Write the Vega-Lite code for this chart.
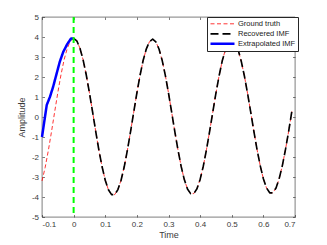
{
  "$schema": "https://vega.github.io/schema/vega-lite/v6.json",
  "width": 253,
  "height": 200,
  "autosize": "none",
  "padding": {"left": 42, "top": 17, "right": 32, "bottom": 28},
  "background": "white",
  "config": {
    "font": "Liberation Sans",
    "view": {"stroke": "#262626", "strokeWidth": 0.6},
    "axis": {
      "grid": false,
      "domain": false,
      "tickColor": "#262626",
      "tickWidth": 0.6,
      "tickSize": -2.5,
      "labelFont": "Liberation Sans",
      "labelFontSize": 8,
      "labelColor": "#3a3a3a",
      "titleFont": "Liberation Sans",
      "titleFontSize": 9,
      "titleFontWeight": "normal",
      "titleColor": "#3a3a3a"
    }
  },
  "datasets": {
    "lines": [
      {"t": -0.10, "v": -3.20, "s": "Ground truth"},
      {"t": -0.09, "v": -2.52, "s": "Ground truth"},
      {"t": -0.08, "v": -1.68, "s": "Ground truth"},
      {"t": -0.07, "v": -0.74, "s": "Ground truth"},
      {"t": -0.06, "v": 0.25, "s": "Ground truth"},
      {"t": -0.05, "v": 1.22, "s": "Ground truth"},
      {"t": -0.04, "v": 2.11, "s": "Ground truth"},
      {"t": -0.03, "v": 2.87, "s": "Ground truth"},
      {"t": -0.02, "v": 3.44, "s": "Ground truth"},
      {"t": -0.01, "v": 3.81, "s": "Ground truth"},
      {"t": 0.00, "v": 3.93, "s": "Ground truth"},
      {"t": 0.01, "v": 3.81, "s": "Ground truth"},
      {"t": 0.02, "v": 3.44, "s": "Ground truth"},
      {"t": 0.03, "v": 2.86, "s": "Ground truth"},
      {"t": 0.04, "v": 2.10, "s": "Ground truth"},
      {"t": 0.05, "v": 1.21, "s": "Ground truth"},
      {"t": 0.06, "v": 0.25, "s": "Ground truth"},
      {"t": 0.07, "v": -0.73, "s": "Ground truth"},
      {"t": 0.08, "v": -1.67, "s": "Ground truth"},
      {"t": 0.09, "v": -2.49, "s": "Ground truth"},
      {"t": 0.10, "v": -3.16, "s": "Ground truth"},
      {"t": 0.11, "v": -3.64, "s": "Ground truth"},
      {"t": 0.12, "v": -3.88, "s": "Ground truth"},
      {"t": 0.13, "v": -3.88, "s": "Ground truth"},
      {"t": 0.14, "v": -3.63, "s": "Ground truth"},
      {"t": 0.15, "v": -3.16, "s": "Ground truth"},
      {"t": 0.16, "v": -2.49, "s": "Ground truth"},
      {"t": 0.17, "v": -1.66, "s": "Ground truth"},
      {"t": 0.18, "v": -0.73, "s": "Ground truth"},
      {"t": 0.19, "v": 0.24, "s": "Ground truth"},
      {"t": 0.20, "v": 1.20, "s": "Ground truth"},
      {"t": 0.21, "v": 2.08, "s": "Ground truth"},
      {"t": 0.22, "v": 2.84, "s": "Ground truth"},
      {"t": 0.23, "v": 3.41, "s": "Ground truth"},
      {"t": 0.24, "v": 3.77, "s": "Ground truth"},
      {"t": 0.25, "v": 3.89, "s": "Ground truth"},
      {"t": 0.26, "v": 3.76, "s": "Ground truth"},
      {"t": 0.27, "v": 3.40, "s": "Ground truth"},
      {"t": 0.28, "v": 2.83, "s": "Ground truth"},
      {"t": 0.29, "v": 2.08, "s": "Ground truth"},
      {"t": 0.30, "v": 1.20, "s": "Ground truth"},
      {"t": 0.31, "v": 0.24, "s": "Ground truth"},
      {"t": 0.32, "v": -0.73, "s": "Ground truth"},
      {"t": 0.33, "v": -1.65, "s": "Ground truth"},
      {"t": 0.34, "v": -2.47, "s": "Ground truth"},
      {"t": 0.35, "v": -3.13, "s": "Ground truth"},
      {"t": 0.36, "v": -3.60, "s": "Ground truth"},
      {"t": 0.37, "v": -3.83, "s": "Ground truth"},
      {"t": 0.38, "v": -3.83, "s": "Ground truth"},
      {"t": 0.39, "v": -3.59, "s": "Ground truth"},
      {"t": 0.40, "v": -3.12, "s": "Ground truth"},
      {"t": 0.41, "v": -2.46, "s": "Ground truth"},
      {"t": 0.42, "v": -1.64, "s": "Ground truth"},
      {"t": 0.43, "v": -0.72, "s": "Ground truth"},
      {"t": 0.44, "v": 0.24, "s": "Ground truth"},
      {"t": 0.45, "v": 1.19, "s": "Ground truth"},
      {"t": 0.46, "v": 2.06, "s": "Ground truth"},
      {"t": 0.47, "v": 2.81, "s": "Ground truth"},
      {"t": 0.48, "v": 3.37, "s": "Ground truth"},
      {"t": 0.49, "v": 3.72, "s": "Ground truth"},
      {"t": 0.50, "v": 3.84, "s": "Ground truth"},
      {"t": 0.51, "v": 3.72, "s": "Ground truth"},
      {"t": 0.52, "v": 3.37, "s": "Ground truth"},
      {"t": 0.53, "v": 2.79, "s": "Ground truth"},
      {"t": 0.54, "v": 2.05, "s": "Ground truth"},
      {"t": 0.55, "v": 1.18, "s": "Ground truth"},
      {"t": 0.56, "v": 0.24, "s": "Ground truth"},
      {"t": 0.57, "v": -0.72, "s": "Ground truth"},
      {"t": 0.58, "v": -1.63, "s": "Ground truth"},
      {"t": 0.59, "v": -2.43, "s": "Ground truth"},
      {"t": 0.60, "v": -3.09, "s": "Ground truth"},
      {"t": 0.61, "v": -3.55, "s": "Ground truth"},
      {"t": 0.62, "v": -3.79, "s": "Ground truth"},
      {"t": 0.63, "v": -3.79, "s": "Ground truth"},
      {"t": 0.64, "v": -3.55, "s": "Ground truth"},
      {"t": 0.65, "v": -3.08, "s": "Ground truth"},
      {"t": 0.66, "v": -2.43, "s": "Ground truth"},
      {"t": 0.67, "v": -1.62, "s": "Ground truth"},
      {"t": 0.68, "v": -0.71, "s": "Ground truth"},
      {"t": 0.69, "v": 0.28, "s": "Ground truth"},
      {"t": 0.00, "v": 3.93, "s": "Recovered IMF"},
      {"t": 0.01, "v": 3.81, "s": "Recovered IMF"},
      {"t": 0.02, "v": 3.44, "s": "Recovered IMF"},
      {"t": 0.03, "v": 2.86, "s": "Recovered IMF"},
      {"t": 0.04, "v": 2.10, "s": "Recovered IMF"},
      {"t": 0.05, "v": 1.21, "s": "Recovered IMF"},
      {"t": 0.06, "v": 0.25, "s": "Recovered IMF"},
      {"t": 0.07, "v": -0.73, "s": "Recovered IMF"},
      {"t": 0.08, "v": -1.67, "s": "Recovered IMF"},
      {"t": 0.09, "v": -2.49, "s": "Recovered IMF"},
      {"t": 0.10, "v": -3.16, "s": "Recovered IMF"},
      {"t": 0.11, "v": -3.64, "s": "Recovered IMF"},
      {"t": 0.12, "v": -3.88, "s": "Recovered IMF"},
      {"t": 0.13, "v": -3.88, "s": "Recovered IMF"},
      {"t": 0.14, "v": -3.63, "s": "Recovered IMF"},
      {"t": 0.15, "v": -3.16, "s": "Recovered IMF"},
      {"t": 0.16, "v": -2.49, "s": "Recovered IMF"},
      {"t": 0.17, "v": -1.66, "s": "Recovered IMF"},
      {"t": 0.18, "v": -0.73, "s": "Recovered IMF"},
      {"t": 0.19, "v": 0.24, "s": "Recovered IMF"},
      {"t": 0.20, "v": 1.20, "s": "Recovered IMF"},
      {"t": 0.21, "v": 2.08, "s": "Recovered IMF"},
      {"t": 0.22, "v": 2.84, "s": "Recovered IMF"},
      {"t": 0.23, "v": 3.41, "s": "Recovered IMF"},
      {"t": 0.24, "v": 3.77, "s": "Recovered IMF"},
      {"t": 0.25, "v": 3.89, "s": "Recovered IMF"},
      {"t": 0.26, "v": 3.76, "s": "Recovered IMF"},
      {"t": 0.27, "v": 3.40, "s": "Recovered IMF"},
      {"t": 0.28, "v": 2.83, "s": "Recovered IMF"},
      {"t": 0.29, "v": 2.08, "s": "Recovered IMF"},
      {"t": 0.30, "v": 1.20, "s": "Recovered IMF"},
      {"t": 0.31, "v": 0.24, "s": "Recovered IMF"},
      {"t": 0.32, "v": -0.73, "s": "Recovered IMF"},
      {"t": 0.33, "v": -1.65, "s": "Recovered IMF"},
      {"t": 0.34, "v": -2.47, "s": "Recovered IMF"},
      {"t": 0.35, "v": -3.13, "s": "Recovered IMF"},
      {"t": 0.36, "v": -3.60, "s": "Recovered IMF"},
      {"t": 0.37, "v": -3.83, "s": "Recovered IMF"},
      {"t": 0.38, "v": -3.83, "s": "Recovered IMF"},
      {"t": 0.39, "v": -3.59, "s": "Recovered IMF"},
      {"t": 0.40, "v": -3.12, "s": "Recovered IMF"},
      {"t": 0.41, "v": -2.46, "s": "Recovered IMF"},
      {"t": 0.42, "v": -1.64, "s": "Recovered IMF"},
      {"t": 0.43, "v": -0.72, "s": "Recovered IMF"},
      {"t": 0.44, "v": 0.24, "s": "Recovered IMF"},
      {"t": 0.45, "v": 1.19, "s": "Recovered IMF"},
      {"t": 0.46, "v": 2.06, "s": "Recovered IMF"},
      {"t": 0.47, "v": 2.81, "s": "Recovered IMF"},
      {"t": 0.48, "v": 3.37, "s": "Recovered IMF"},
      {"t": 0.49, "v": 3.72, "s": "Recovered IMF"},
      {"t": 0.50, "v": 3.84, "s": "Recovered IMF"},
      {"t": 0.51, "v": 3.72, "s": "Recovered IMF"},
      {"t": 0.52, "v": 3.37, "s": "Recovered IMF"},
      {"t": 0.53, "v": 2.79, "s": "Recovered IMF"},
      {"t": 0.54, "v": 2.05, "s": "Recovered IMF"},
      {"t": 0.55, "v": 1.18, "s": "Recovered IMF"},
      {"t": 0.56, "v": 0.24, "s": "Recovered IMF"},
      {"t": 0.57, "v": -0.72, "s": "Recovered IMF"},
      {"t": 0.58, "v": -1.63, "s": "Recovered IMF"},
      {"t": 0.59, "v": -2.43, "s": "Recovered IMF"},
      {"t": 0.60, "v": -3.09, "s": "Recovered IMF"},
      {"t": 0.61, "v": -3.55, "s": "Recovered IMF"},
      {"t": 0.62, "v": -3.79, "s": "Recovered IMF"},
      {"t": 0.63, "v": -3.79, "s": "Recovered IMF"},
      {"t": 0.64, "v": -3.55, "s": "Recovered IMF"},
      {"t": 0.65, "v": -3.08, "s": "Recovered IMF"},
      {"t": 0.66, "v": -2.43, "s": "Recovered IMF"},
      {"t": 0.67, "v": -1.62, "s": "Recovered IMF"},
      {"t": 0.68, "v": -0.71, "s": "Recovered IMF"},
      {"t": 0.69, "v": 0.28, "s": "Recovered IMF"},
      {"t": -0.100, "v": -1.00, "s": "Extrapolated IMF"},
      {"t": -0.085, "v": 0.60, "s": "Extrapolated IMF"},
      {"t": -0.075, "v": 1.00, "s": "Extrapolated IMF"},
      {"t": -0.065, "v": 1.50, "s": "Extrapolated IMF"},
      {"t": -0.044, "v": 2.75, "s": "Extrapolated IMF"},
      {"t": -0.033, "v": 3.25, "s": "Extrapolated IMF"},
      {"t": -0.020, "v": 3.65, "s": "Extrapolated IMF"},
      {"t": -0.008, "v": 3.93, "s": "Extrapolated IMF"},
      {"t": 0.000, "v": 3.93, "s": "Extrapolated IMF"}
    ],
    "marker": [{"t": 0}]
  },
  "layer": [
    {
      "data": {"name": "lines"},
      "mark": {"type": "line", "strokeCap": "butt", "strokeJoin": "round"},
      "encoding": {
        "x": {
          "field": "t", "type": "quantitative",
          "scale": {"domain": [-0.1, 0.7], "nice": false, "zero": false},
          "axis": {
            "orient": "bottom",
            "values": [-0.1, 0, 0.1, 0.2, 0.3, 0.4, 0.5, 0.6, 0.7],
            "labelExpr": "replace(format(datum.value, '.1~f'), '\u2212', '-')",
            "labelPadding": 6,
            "title": "Time",
            "titlePadding": 2
          }
        },
        "y": {
          "field": "v", "type": "quantitative",
          "scale": {"domain": [-5, 5], "nice": false, "zero": false},
          "axis": {
            "orient": "left",
            "values": [-5, -4, -3, -2, -1, 0, 1, 2, 3, 4, 5],
            "labelExpr": "replace(format(datum.value, 'd'), '\u2212', '-')",
            "labelPadding": 6,
            "title": "Amplitude",
            "titlePadding": 5
          }
        },
        "color": {
          "field": "s", "type": "nominal",
          "scale": {
            "domain": ["Ground truth", "Recovered IMF", "Extrapolated IMF"],
            "range": ["#ff0000", "#000000", "#0000ff"]
          },
          "legend": {
            "orient": "none",
            "legendX": 165,
            "legendY": 0,
            "title": null,
            "fillColor": "white",
            "strokeColor": "#262626",
            "padding": 2,
            "symbolType": "stroke",
            "symbolSize": 576,
            "clipHeight": 9.6,
            "rowPadding": 0,
            "labelOffset": 2,
            "labelFont": "Liberation Sans",
            "labelFontSize": 7.5,
            "labelColor": "#1a1a1a"
          }
        },
        "strokeDash": {
          "field": "s", "type": "nominal",
          "scale": {
            "domain": ["Ground truth", "Recovered IMF", "Extrapolated IMF"],
            "range": [[4, 2.5], [8, 4], [1, 0]]
          }
        },
        "strokeWidth": {
          "field": "s", "type": "nominal",
          "scale": {
            "domain": ["Ground truth", "Recovered IMF", "Extrapolated IMF"],
            "range": [0.8, 2.5, 2]
          }
        }
      }
    },
    {
      "data": {"name": "marker"},
      "mark": {"type": "rule", "color": "#00ff00", "strokeWidth": 2, "strokeDash": [6, 4]},
      "encoding": {
        "x": {
          "field": "t", "type": "quantitative",
          "axis": {
            "orient": "top",
            "values": [-0.1, 0, 0.1, 0.2, 0.3, 0.4, 0.5, 0.6, 0.7],
            "labels": false,
            "title": null
          }
        }
      }
    },
    {
      "data": {"name": "lines"},
      "mark": {"type": "point", "opacity": 0},
      "encoding": {
        "x": {"field": "t", "type": "quantitative", "axis": null},
        "y": {
          "field": "v", "type": "quantitative",
          "axis": {
            "orient": "right",
            "values": [-5, -4, -3, -2, -1, 0, 1, 2, 3, 4, 5],
            "labels": false,
            "title": null
          }
        }
      }
    }
  ],
  "resolve": {"axis": {"x": "independent", "y": "independent"}}
}
